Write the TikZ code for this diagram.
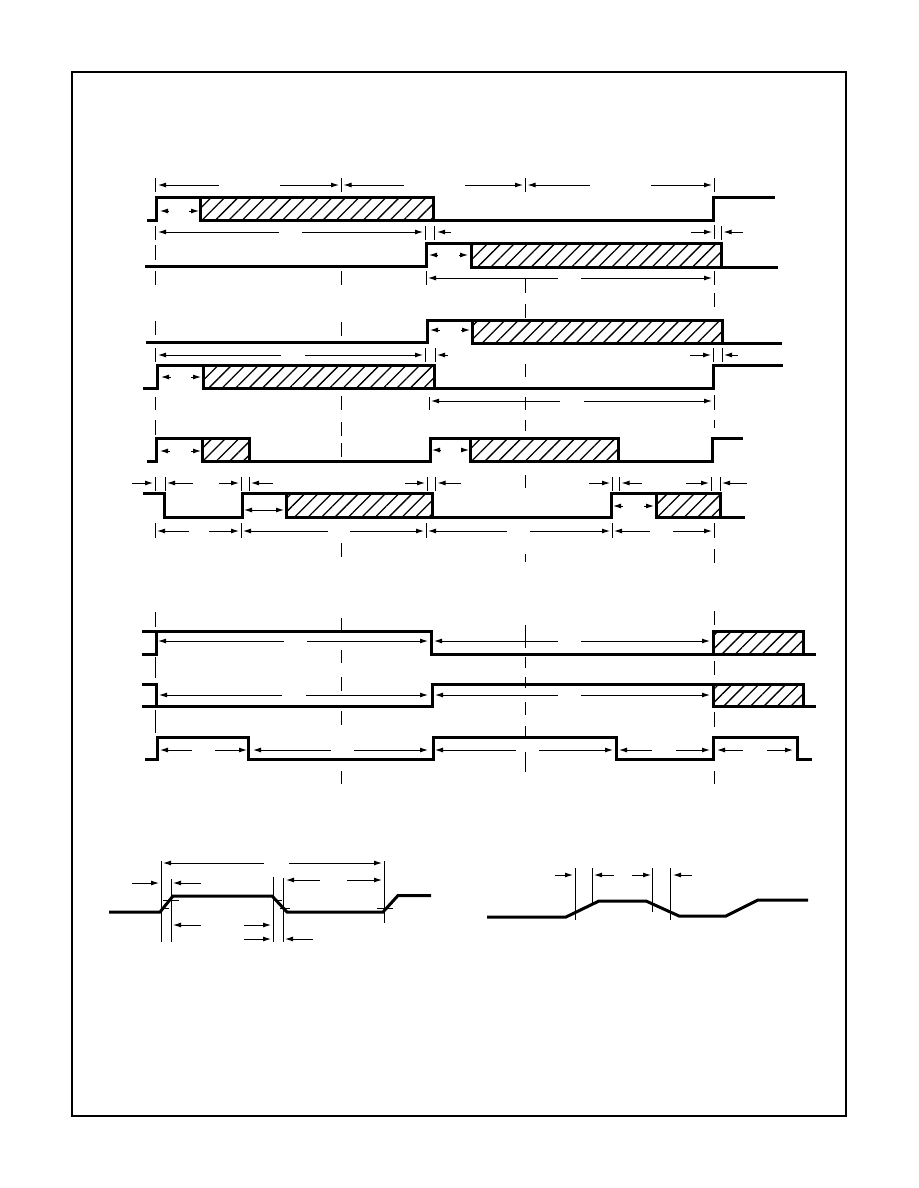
\documentclass[tikz,border=0pt]{standalone}
\usepackage{tikz}
\usetikzlibrary{arrows.meta,patterns.meta}
\tikzset{
  sigline/.style={line width=3pt,line join=miter},
  hatchbox/.style={line width=3pt,line join=miter,pattern={Lines[angle=45,distance=9.5pt,line width=1.3pt]}},
  guide/.style={line width=1pt},
  dimtip/.style={line width=1pt,{Latex[length=8pt,width=5pt]}-},
  thresh/.style={line width=1pt}
}
\begin{document}
\begin{tikzpicture}[x=1pt,y=-1pt]
  \useasboundingbox (0,0) rectangle (918,1188);
  \draw[line width=1.6pt] (72,72) rectangle (846,1116);
  % hatched boxes
  \foreach \xa/\xb/\ya/\yb in {200.5/433.2/197/220, 471/721.2/243.5/267, 472/722.2/320/343, 203/434.2/365/388,
      202/249.2/438/461, 470/618.2/438/461, 286/432.2/493/517, 656/720.2/493/517, 713/803.2/631/654, 713/803.2/684/706}
    \draw[hatchbox] (\xa,\ya) rectangle (\xb,\yb);
  % signals
  \draw[sigline] (147,220.5) -- (156,220.5) -- (156,197) -- (200,197);
  \draw[sigline] (433,220) -- (713,220) -- (713,197) -- (775,197);
  \draw[sigline] (145,266) -- (426,266) -- (426,243.5) -- (471,243.5);
  \draw[sigline] (721,267) -- (778,267);
  \draw[sigline] (146,342.5) -- (427,342.5) -- (427,320) -- (472,320);
  \draw[sigline] (722,343) -- (782,343);
  \draw[sigline] (143,388) -- (157,388) -- (157,365) -- (203,365);
  \draw[sigline] (434,388) -- (713,388) -- (713,365) -- (783,365);
  \draw[sigline] (147,461) -- (156,461) -- (156,438) -- (202,438);
  \draw[sigline] (249,461) -- (430,461) -- (430,438) -- (470,438);
  \draw[sigline] (618,461) -- (712,461) -- (712,438) -- (743,438);
  \draw[sigline] (143,493) -- (164,493) -- (164,517) -- (242,517) -- (242,493) -- (286,493);
  \draw[sigline] (432,517) -- (611,517) -- (611,493) -- (656,493);
  \draw[sigline] (720,517) -- (745,517);
  \draw[sigline] (142,631) -- (431,631) -- (431,654) -- (816,654);
  \draw[sigline] (142,654) -- (156,654) -- (156,631);
  \draw[sigline] (142,684) -- (156,684) -- (156,706);
  \draw[sigline] (142,706) -- (432,706) -- (432,684) -- (713,684);
  \draw[sigline] (803,706) -- (816,706);
  \draw[sigline] (145,759) -- (157.5,759) -- (157.5,737) -- (248.5,737) -- (248.5,759) -- (433,759)
      -- (433,737) -- (616.5,737) -- (616.5,759) -- (713,759) -- (713,737) -- (797,737) -- (797,759) -- (812,759);
  \draw[sigline] (109,912) -- (160,912) -- (173,896) -- (272,896) -- (287,912) -- (383,912) -- (398,895.5) -- (431,895.5);
  \draw[sigline] (487,917) -- (566,917) -- (599,901) -- (646,901) -- (679,916) -- (726,916) -- (758,900) -- (808,900);
  % dashed guides and extension marks
  \foreach \xp/\ya/\yb in {155.5/178/192, 155.5/226/240, 155.5/245/260, 155.5/271/285, 155.5/321/335, 155.5/348/362,
      155.5/397/410, 155.5/420/435, 155.5/477/491, 155.5/523/538, 155.5/612/627, 155.5/657/678, 155.5/710/733,
      341/178/192, 341/271/285, 341/322/336, 341/396/410, 341/422/436, 341/443/457, 341/543/557,
      341/618/631, 341/650/663, 341/677/691, 341/711/725, 341/771/784,
      525/178/192, 525/278/293, 525/304/318, 525/364/377, 525/397/410, 525/420/431, 525/475/488, 525/554/562,
      525/625/648, 525/657/668, 525/677/688, 525/702/715, 525/726/737, 525/752/772,
      714/178/192, 714/225/239, 714/271/285, 714/293/307, 713/348/362, 714/395/410, 714/420/428,
      714/523/538, 714/549/563, 714/611/625, 714/661/675, 714/712/727, 714/771/784,
      425.5/226/240, 434.5/226/240, 721.5/226/240, 426.5/271/285, 425.5/348/362, 435.5/348/362, 722/348/362, 429.5/397/410,
      165/477/491, 241.5/477/491, 249.5/477/491, 427/477/491, 435.5/477/491, 612.5/477/491, 619.5/477/491,
      711/477/491, 720/477/491, 241.5/523/538, 426.5/523/538, 612.5/523/538,
      161.5/861/942, 171.5/879/942, 273.5/877/942, 283.5/878/942, 384/861/923,
      575/868/920, 592/868/903, 652/868/912, 670/868/920}
    \draw[guide] (\xp,\ya) -- (\xp,\yb);
  % threshold marks on the edges
  \foreach \xa/\xb/\yp in {163/179/900, 163/169/908, 275/282/900, 280/290/908, 377/393/908}
    \draw[thresh] (\xa,\yp) -- (\xb,\yp);
  % dimension arrows: tip, tail, height
  \foreach \xa/\xb/\yp in {158/219/185, 339/280/185, 343.5/404/185, 523/465/185, 527.5/590/185, 712/651/185,
      160/168/211, 199/189/211,
      158/279/232, 423/302/232, 437/451/232, 712/691/232, 723.5/743/232,
      429/438/255, 468/459/255,
      428/558/278, 712/581/278,
      430/440/330, 470/461/330,
      158/281/355, 423/305/355, 437/448/355, 711/690/355, 724/738/355,
      161/171/377, 201/191/377,
      431/560/401, 712/584/401,
      160/170/451, 201/191/451, 432/440/450, 469/461/450,
      153/132/483, 167/193/483, 239/219/483, 251/273/483, 425/405/483, 437.5/461/483,
      610/589/483, 621.5/642/483, 709/686/483, 722/747/483,
      613/623/506, 654/644/506,
      157/189/531, 239/209/531, 243/328/531, 424/350/531, 428/507/531, 610/530/531, 614/650/531, 712/673/531,
      158/284/641, 428/307/641, 434/558/641, 710/581/641,
      159/282/695, 428/306/695, 435/558/695, 710/581/695,
      160/192/750, 247/215/750, 253/331/750, 428/354/750, 435/516/750, 613/539/750, 619/652/750, 710/676/750,
      717/743/750, 793/767/750,
      163/264/863, 382/289/863,
      159/132/883, 173/201/883, 286/320/880, 382/347/880,
      173/201/925, 271/244/925,
      271/244/939, 285/313/939,
      573/555/875, 594/614/875, 651/632/875, 673/692/875}
    \draw[dimtip] (\xa,\yp) -- (\xb,\yp);
  \draw[line width=1pt,{Latex[length=8pt,width=5pt]}-{Latex[length=8pt,width=5pt]}] (244,510) -- (284,510);
\end{tikzpicture}
\end{document}
